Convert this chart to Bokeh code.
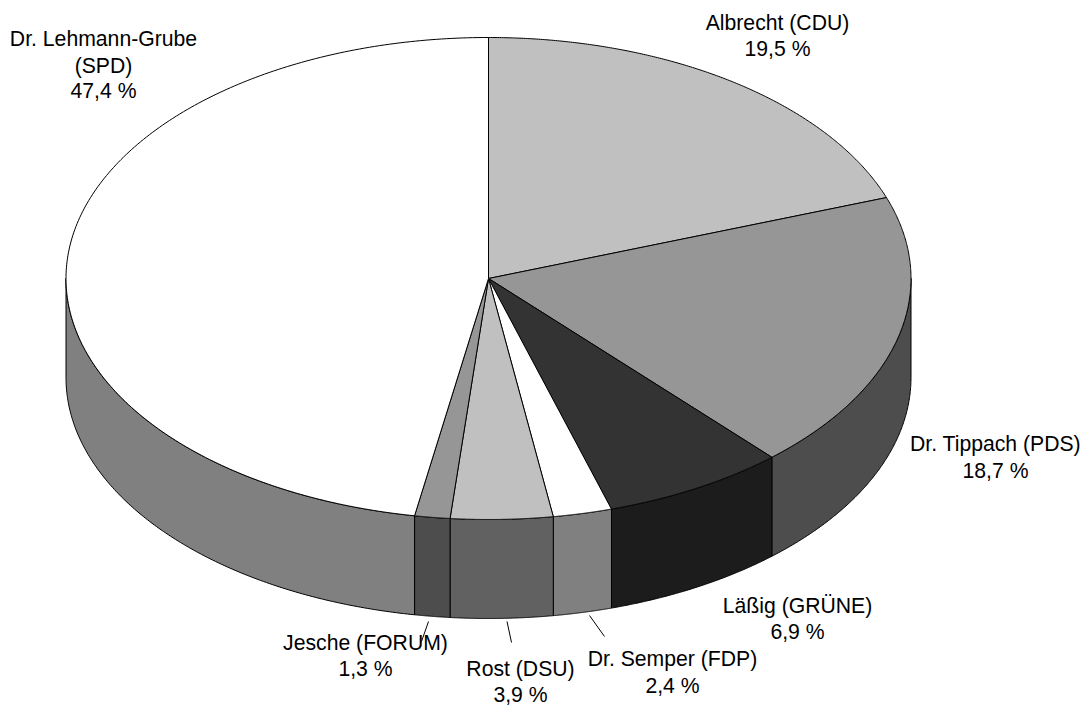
import numpy as np
from bokeh.plotting import figure
from bokeh.models import Range1d, ColumnDataSource
from bokeh.core.properties import value
from bokeh.embed import file_html
from bokeh.resources import INLINE

candidates = ["Albrecht (CDU)", "Dr. Tippach (PDS)", "Läßig (GRÜNE)", "Dr. Semper (FDP)",
              "Rost (DSU)", "Jesche (FORUM)", "Dr. Lehmann-Grube\n(SPD)"]
# wedge sizes as measured on the picture (the printed labels round them and sum to 100.1)
shares = [19.55, 18.75, 7.0, 2.25, 3.9, 1.35, 47.2]
share_labels = ["19,5 %", "18,7 %", "6,9 %", "2,4 %", "3,9 %", "1,3 %", "47,4 %"]
top_colors = ["#C0C0C0", "#969696", "#333333", "#FFFFFF", "#C0C0C0", "#969696", "#FFFFFF"]
side_colors = ["#4D4D4D", "#4D4D4D", "#1C1C1C", "#808080", "#616161", "#4D4D4D", "#808080"]

CX, CY, RX, RY, DEPTH = 488.0, 278.0, 422.5, 241.0, 99.0
FONT = "Liberation Sans"
FSIZE = "21.2px"

# label layout: centre x and y of each line (page pixels)
label_pos = {
    0: (777, [22, 48]),
    1: (995, [443, 470]),
    2: (797, [605, 631]),
    3: (672, [658, 685]),
    4: (520, [668, 694]),
    5: (365, [642, 668]),
    6: (103, [38, 65, 90]),
}
# leader lines: (slice, x0, y0, x1, y1) in page pixels
leaders = [(5, 428, 621, 421, 641), (4, 506.5, 621, 511, 642), (3, 589, 615, 604, 636)]


def ell(t, dy=0.0):
    return CX + RX * np.sin(t), CY - RY * np.cos(t) + dy


p = figure(width=1085, height=706, toolbar_location=None, output_backend="svg",
           x_range=Range1d(0, 1085), y_range=Range1d(706, 0),
           min_border=0, outline_line_color=None, background_fill_color="white",
           border_fill_color="white")
p.axis.visible = False
p.grid.visible = False

cum = np.cumsum([0] + shares)
starts = cum[:-1] / 100 * 2 * np.pi
ends = np.minimum(cum[1:] / 100 * 2 * np.pi, 2 * np.pi)
ends[-1] = 2 * np.pi

# side walls (only the front half of the cylinder is visible)
for s, e, col in zip(starts, ends, side_colors):
    a, b = max(s, np.pi / 2), min(e, 3 * np.pi / 2)
    if b <= a:
        continue
    t = np.linspace(a, b, 160)
    xt, yt = ell(t)
    xb, yb = ell(t[::-1], DEPTH)
    p.patch(np.r_[xt, xb], np.r_[yt, yb], fill_color=col, line_color="black", line_width=1)

# top faces
for s, e, col in zip(starts, ends, top_colors):
    t = np.linspace(s, e, 240)
    xt, yt = ell(t)
    p.patch(np.r_[CX, xt], np.r_[CY, yt], fill_color=col, line_color="black", line_width=1)

for _, x0, y0, x1, y1 in leaders:
    p.line([x0, x1], [y0, y1], line_color="black", line_width=1)

xs, ys, txt = [], [], []
for i, (name, lab) in enumerate(zip(candidates, share_labels)):
    lines = name.split("\n") + [lab]
    cx, yy = label_pos[i]
    for line, y in zip(lines, yy):
        xs.append(cx)
        ys.append(y)
        txt.append(line)
p.text(x="x", y="y", text="t", source=ColumnDataSource(dict(x=xs, y=ys, t=txt)),
       text_font=value(FONT), text_font_size=value(FSIZE), text_color="black",
       text_align="center", text_baseline="middle")

open("out.html", "w").write(file_html(p, INLINE))
